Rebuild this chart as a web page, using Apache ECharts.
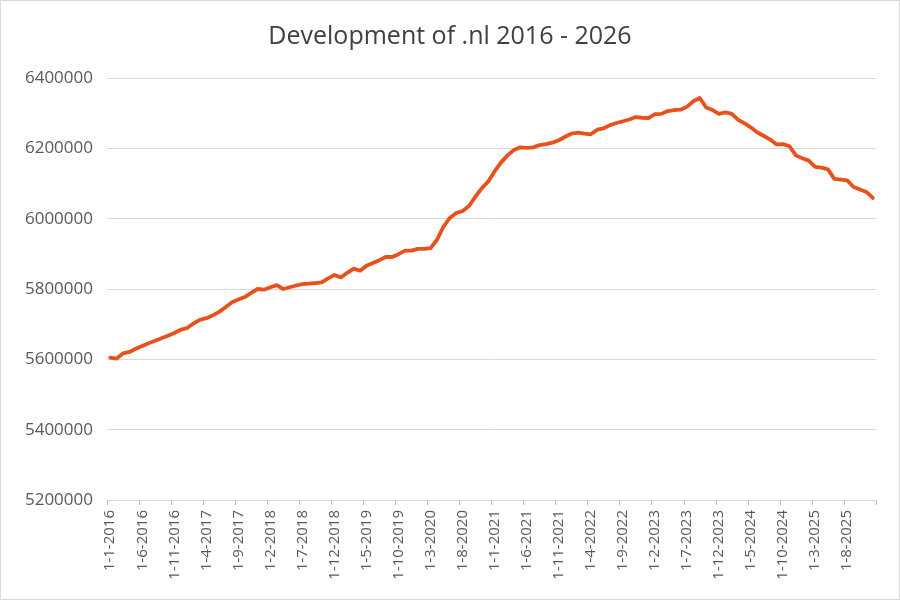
<!DOCTYPE html>
<html>
<head>
<meta charset="utf-8">
<script src="https://cdn.jsdelivr.net/npm/echarts@6/dist/echarts.min.js"></script>
<style>
html,body{margin:0;padding:0;background:#fff;}
#c{width:898px;height:598px;border:1px solid #d9d9d9;}
</style>
</head>
<body>
<div id="c"></div>
<script>
var titleText = 'Development of .nl 2016 - 2026';
var yTicks = [5200000, 5400000, 5600000, 5800000, 6000000, 6200000, 6400000];
var categories = [];
for (var y = 2016; y <= 2025; y++) {
  for (var m = 1; m <= 12; m++) categories.push('1-' + m + '-' + y);
}
var values = [
  5605000,5602000,5617000,5621000,5630000,5638000,5646000,5653000,5660000,5667000,5675000,5684000,
  5689000,5702000,5712000,5717000,5725000,5735000,5748000,5762000,5770000,5777000,5789000,5800000,
  5798000,5805000,5811000,5800000,5805000,5810000,5814000,5815000,5817000,5819000,5830000,5840000,
  5833000,5846000,5858000,5852000,5866000,5874000,5882000,5891000,5891000,5899000,5909000,5909000,
  5914000,5914000,5916000,5940000,5977000,6002000,6016000,6022000,6036000,6063000,6087000,6106000,
  6135000,6160000,6180000,6195000,6203000,6201000,6203000,6209000,6212000,6216000,6223000,6233000,
  6242000,6245000,6242000,6240000,6253000,6257000,6266000,6272000,6277000,6282000,6289000,6287000,
  6286000,6297000,6298000,6306000,6309000,6310000,6318000,6334000,6343000,6316000,6309000,6298000,
  6302000,6298000,6281000,6271000,6259000,6245000,6235000,6225000,6211000,6212000,6206000,6180000,
  6172000,6165000,6147000,6145000,6140000,6113000,6111000,6109000,6090000,6083000,6076000,6059000
];
var chart = echarts.init(document.getElementById('c'));
chart.setOption({
  animation: false,
  title: {
    text: titleText, left: 'center', top: 18,
    textStyle: {fontFamily: 'Open Sans', fontWeight: 'normal', fontSize: 25, color: '#404040'}
  },
  grid: {left: 106, right: 23, top: 77, bottom: 99},
  xAxis: {
    type: 'category', data: categories, boundaryGap: true,
    axisLine: {lineStyle: {color: '#d9d9d9', width: 1}},
    axisTick: {show: true, interval: 4, length: 5, lineStyle: {color: '#bfbfbf'}},
    axisLabel: {interval: 4, rotate: 90, fontFamily: 'Open Sans', fontSize: 15, color: '#595959', margin: 10}
  },
  yAxis: {
    type: 'value', min: yTicks[0], max: yTicks[yTicks.length - 1], interval: 200000,
    axisLine: {show: false}, axisTick: {show: false},
    splitLine: {lineStyle: {color: '#d9d9d9', width: 1}},
    axisLabel: {fontFamily: 'Open Sans', fontSize: 17, color: '#595959', margin: 14,
      formatter: function (v) { return String(v); }}
  },
  series: [{
    type: 'line', data: values, showSymbol: false, smooth: false,
    lineStyle: {color: '#E8501C', width: 3.8, join: 'round', cap: 'round'}
  }]
});
</script>
</body>
</html>
